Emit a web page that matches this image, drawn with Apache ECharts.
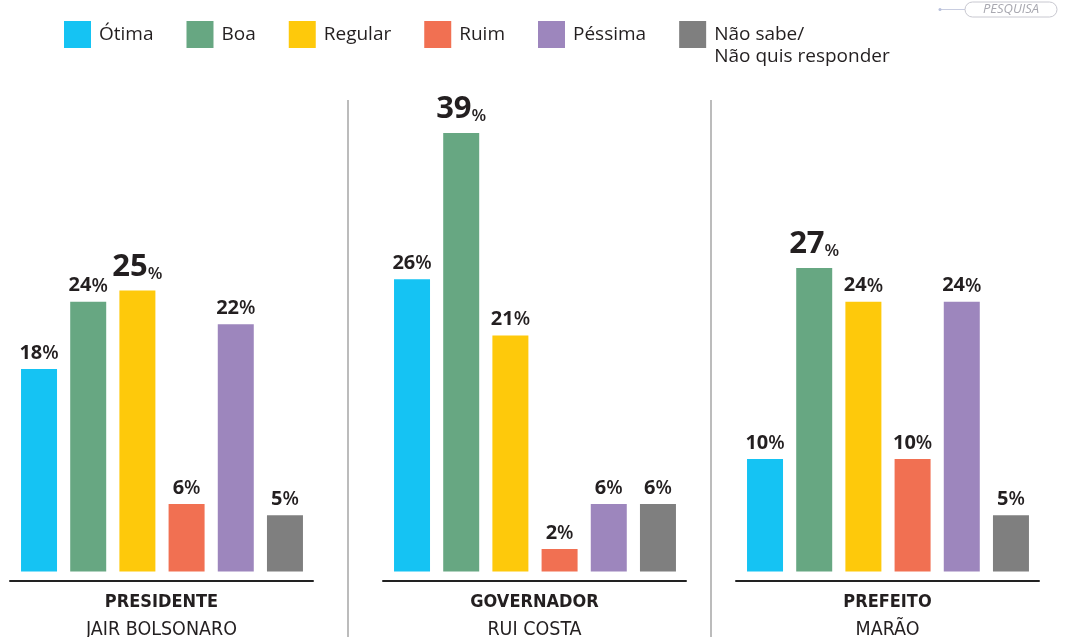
<!DOCTYPE html>
<html>
<head>
<meta charset="utf-8">
<script src="https://cdn.jsdelivr.net/npm/echarts@6/dist/echarts.min.js"></script>
<style>html,body{margin:0;padding:0;background:#fff}#c{width:1073px;height:637px}</style>
</head>
<body>
<div id="c"></div>
<script>
// ---- data ----
const categories = ['Ótima', 'Boa', 'Regular', 'Ruim', 'Péssima', 'Não sabe/\nNão quis responder'];
const panelTitles = ['PRESIDENTE', 'GOVERNADOR', 'PREFEITO'];
const panelNames = ['JAIR BOLSONARO', 'RUI COSTA', 'MARÃO'];
const presidente = [18, 24, 25, 6, 22, 5];
const governador = [26, 39, 21, 2, 6, 6];
const prefeito = [10, 27, 24, 10, 24, 5];
const panelValues = [presidente, governador, prefeito];

// ---- styles ----
const colors = ['#15C3F3', '#67A782', '#FEC90B', '#F17052', '#9D86BD', '#7F7F7F'];
const gridLefts = [10, 383, 736];
const textColor = '#231f20';
const condensed = "'Liberation Sans Narrow', 'DejaVu Sans Condensed', 'Open Sans', sans-serif";
const labelFont = "'Open Sans', sans-serif";

const chart = echarts.init(document.getElementById('c'), null, {renderer: 'canvas'});

const grids = [], xAxes = [], yAxes = [], series = [];
panelValues.forEach((vals, p) => {
  grids.push({left: gridLefts[p], width: 303, top: 121.8, bottom: 56, containLabel: false, outerBoundsMode: 'none'});
  xAxes.push({
    type: 'value', gridIndex: p, min: -0.59, max: 5.57,
    axisLine: {show: true, onZero: false, lineStyle: {color: '#222', width: 2}},
    axisTick: {show: false}, axisLabel: {show: false}, splitLine: {show: false},
    name: '{t|' + panelTitles[p] + '}\n{s|' + panelNames[p] + '}',
    nameLocation: 'middle', nameGap: 8,
    nameTextStyle: {
      rich: {
        t: {fontFamily: condensed, fontWeight: 'bold', fontSize: 18, lineHeight: 27, color: textColor, align: 'center'},
        s: {fontFamily: condensed, fontSize: 19.5, lineHeight: 27, color: textColor, align: 'center'}
      }
    }
  });
  yAxes.push({type: 'value', gridIndex: p, min: -0.85, max: 40, show: false, splitLine: {show: false}});
  const maxV = Math.max(...vals);
  vals.forEach((v, k) => {
    series.push({
      type: 'bar', name: categories[k], xAxisIndex: p, yAxisIndex: p,
      data: [{value: [k, v], label: {distance: v === maxV ? 8 : 6}}],
      barWidth: 36, barGap: '-100%',
      itemStyle: {color: colors[k]},
      label: {
        show: true, position: 'top',
        formatter: (prm) => {
          const val = prm.value[1];
          return val === maxV ? '{big|' + val + '}{bp|%}' : '{n|' + val + '}{p|%}';
        },
        rich: {
          big: {fontFamily: labelFont, fontWeight: 'bold', fontSize: 31, lineHeight: 33, color: textColor, verticalAlign: 'bottom'},
          bp: {fontFamily: labelFont, fontWeight: 600, fontSize: 17, lineHeight: 24, color: textColor, verticalAlign: 'bottom'},
          n: {fontFamily: labelFont, fontWeight: 'bold', fontSize: 20, lineHeight: 24, color: textColor, verticalAlign: 'bottom'},
          p: {fontFamily: labelFont, fontWeight: 600, fontSize: 19, lineHeight: 24, color: textColor, verticalAlign: 'bottom'}
        }
      },
      emphasis: {disabled: true}
    });
  });
});

chart.setOption({
  animation: false,
  backgroundColor: '#ffffff',
  legend: {
    data: categories,
    left: 64, top: -2, padding: 0,
    itemWidth: 27, itemHeight: 27, itemGap: 33,
    icon: 'rect',
    formatter: (name) => name.indexOf('\n') >= 0 ? '\n' + name : name,
    textStyle: {fontFamily: labelFont, fontSize: 19, color: textColor, lineHeight: 22, padding: [7, 0, 0, 3]}
  },
  grid: grids, xAxis: xAxes, yAxis: yAxes, series: series,
  graphic: [
    {type: 'line', shape: {x1: 348, y1: 100, x2: 348, y2: 637}, style: {stroke: '#a6a6a6', lineWidth: 1.5}, silent: true},
    {type: 'line', shape: {x1: 711, y1: 100, x2: 711, y2: 637}, style: {stroke: '#a6a6a6', lineWidth: 1.5}, silent: true},
    {type: 'line', shape: {x1: 940, y1: 9.5, x2: 965, y2: 9.5}, style: {stroke: '#c8cde0', lineWidth: 1}, silent: true},
    {type: 'circle', shape: {cx: 940, cy: 9.5, r: 1.5}, style: {fill: '#b8c0dc'}, silent: true},
    {type: 'rect', shape: {x: 965, y: 2, width: 92, height: 15, r: 7.5}, style: {fill: 'none', stroke: '#c8c8d0', lineWidth: 1}, silent: true},
    {type: 'text', x: 1011, y: 9.5, style: {text: 'PESQUISA', fontFamily: labelFont, fontStyle: 'italic', fontSize: 13, fill: '#a8a8b0', align: 'center', verticalAlign: 'middle'}, silent: true}
  ]
});
</script>
</body>
</html>
